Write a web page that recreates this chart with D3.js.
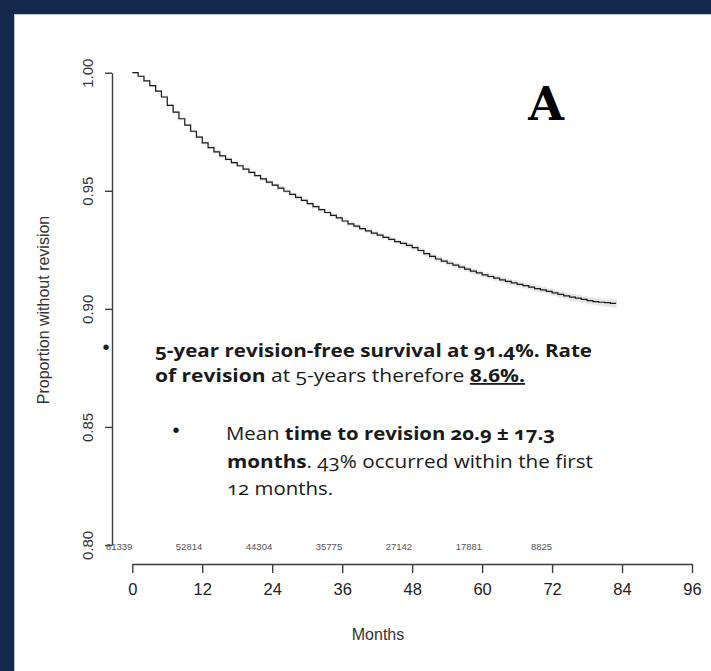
<!DOCTYPE html>
<html>
<head>
<meta charset="utf-8">
<script src="https://cdn.jsdelivr.net/npm/d3@7"></script>
<style>
  html, body { margin: 0; padding: 0; background: #14284c; }
  svg { display: block; }
</style>
</head>
<body>
<svg id="svg" width="711" height="671"></svg>
<script>
// Kaplan-Meier curve
const months = [0,1,2,3,4,5,6,7,8,9,10,11,12,13,14,15,16,17,18,19,20,21,22,23,24,25,26,27,28,29,
  30,31,32,33,34,35,36,37,38,39,40,41,42,43,44,45,46,47,48,49,50,51,52,53,54,55,56,57,58,59,
  60,61,62,63,64,65,66,67,68,69,70,71,72,73,74,75,76,77,78,79,80,81,82,83];
const survival = [1.0000,0.9985,0.9965,0.9945,0.9922,0.9897,0.9862,0.9833,0.9805,0.9778,
  0.9752,0.9727,0.9703,0.9683,0.9665,0.9648,0.9633,0.9619,0.9606,0.9592,
  0.9578,0.9564,0.9550,0.9537,0.9524,0.9511,0.9498,0.9485,0.9472,0.9459,
  0.9446,0.9433,0.9420,0.9408,0.9396,0.9385,0.9372,0.9360,0.9350,0.9340,
  0.9330,0.9321,0.9312,0.9303,0.9294,0.9285,0.9277,0.9269,0.9259,0.9247,
  0.9234,0.9222,0.9211,0.9202,0.9193,0.9185,0.9177,0.9168,0.9160,0.9152,
  0.9144,0.9137,0.9130,0.9123,0.9116,0.9110,0.9104,0.9098,0.9092,0.9086,
  0.9080,0.9074,0.9068,0.9061,0.9055,0.9050,0.9045,0.9040,0.9035,0.9031,
  0.9028,0.9026,0.9023,0.9023];
// half width of the grey confidence band
const ciHalf = [0,0.0001,0.0001,0.0002,0.0002,0.0002,0.0003,0.0003,0.0003,0.0003,
  0.0003,0.0003,0.0004,0.0004,0.0004,0.0004,0.0004,0.0004,0.0004,0.0004,
  0.0004,0.0004,0.0004,0.0005,0.0005,0.0005,0.0005,0.0005,0.0005,0.0005,
  0.0005,0.0005,0.0005,0.0005,0.0005,0.0005,0.0006,0.0006,0.0006,0.0006,
  0.0006,0.0006,0.0006,0.0006,0.0006,0.0006,0.0006,0.0007,0.0007,0.0007,
  0.0007,0.0007,0.0007,0.0007,0.0007,0.0007,0.0008,0.0008,0.0008,0.0008,
  0.0008,0.0008,0.0008,0.0008,0.0009,0.0009,0.0009,0.0009,0.0009,0.0010,
  0.0010,0.0010,0.0010,0.0011,0.0011,0.0011,0.0012,0.0012,0.0012,0.0013,
  0.0013,0.0014,0.0014,0.0014];

const xTicks = [0,12,24,36,48,60,72,84,96];
const yTicks = [0.80,0.85,0.90,0.95,1.00];
const riskMonths = [0,12,24,36,48,60,72];
const riskCounts = ["61339","52814","44304","35775","27142","17881","8825"];

const svg = d3.select("#svg");

// white panel
svg.append("rect")
    .attr("x", 14.5).attr("y", 14.5)
    .attr("width", 711).attr("height", 671)
    .attr("fill", "#fff")
    .attr("stroke", "#b9c3d2")
    .attr("stroke-width", 1);

const x = d3.scaleLinear().domain([0, 96]).range([132.3, 692]);
const y = d3.scaleLinear().domain([0.80, 1.00]).range([545, 72.7]);

const data = months.map((m, i) => ({m: m, s: survival[i], h: ciHalf[i]}));

// confidence band
const band = d3.area()
    .x(d => x(d.m))
    .y0(d => y(d.s - d.h))
    .y1(d => y(d.s + d.h))
    .curve(d3.curveStepAfter);

svg.append("path")
    .datum(data)
    .attr("fill", "#e3e3e3")
    .attr("stroke", "#e8e8e8")
    .attr("stroke-width", 1.5)
    .attr("d", band);

const line = d3.line()
    .x(d => x(d.m))
    .y(d => y(d.s))
    .curve(d3.curveStepAfter);

svg.append("path")
    .datum(data)
    .attr("fill", "none")
    .attr("stroke", "#1a1a1a")
    .attr("stroke-width", 1.2)
    .attr("d", line);

// y axis
const yAxis = svg.append("g")
    .attr("transform", "translate(112,0)")
    .call(d3.axisLeft(y).tickValues(yTicks).tickFormat(d3.format(".2f")).tickSize(7).tickSizeOuter(0));

yAxis.selectAll("text")
    .attr("transform", "rotate(-90)")
    .attr("x", 0).attr("y", -24).attr("dy", "0.35em")
    .attr("text-anchor", "middle")
    .attr("font-family", "Liberation Sans, Arial, sans-serif")
    .attr("font-size", 15)
    .attr("fill", "#333");

// x axis
const xAxis = svg.append("g")
    .attr("transform", "translate(0,564)")
    .call(d3.axisBottom(x).tickValues(xTicks).tickSize(9).tickSizeOuter(0));

xAxis.selectAll("text")
    .attr("y", 19)
    .attr("font-family", "Liberation Sans, Arial, sans-serif")
    .attr("font-size", 16.5)
    .attr("fill", "#222");

svg.selectAll(".domain, .tick line")
    .attr("stroke", "#3c3c3c")
    .attr("stroke-width", 1.4);

// numbers at risk
svg.append("g").selectAll("text")
    .data(riskMonths)
    .join("text")
    .attr("x", d => x(d))
    .attr("y", 547)
    .attr("dy", "0.35em")
    .attr("text-anchor", "end")
    .attr("font-family", "Liberation Sans, Arial, sans-serif")
    .attr("font-size", 9.5)
    .attr("fill", "#555")
    .text((d, i) => riskCounts[i]);

// axis titles
svg.append("text")
    .attr("transform", "translate(43,310) rotate(-90)")
    .attr("text-anchor", "middle")
    .attr("dy", "0.35em")
    .attr("font-family", "Liberation Sans, Arial, sans-serif")
    .attr("font-size", 16)
    .attr("fill", "#333")
    .text("Proportion without revision");

svg.append("text")
    .attr("x", 378).attr("y", 634)
    .attr("text-anchor", "middle")
    .attr("dy", "0.35em")
    .attr("font-family", "Liberation Sans, Arial, sans-serif")
    .attr("font-size", 16)
    .attr("fill", "#333")
    .text("Months");

// panel letter
svg.append("text")
    .attr("x", 546).attr("y", 120)
    .attr("text-anchor", "middle")
    .attr("font-family", "DejaVu Serif, serif")
    .attr("font-weight", "bold")
    .attr("font-size", 46)
    .attr("fill", "#000")
    .text("A");

// bullet notes: font kept small enough that lines don't collide, stretched to the original widths
const noteFont = "Open Sans, Noto Sans, sans-serif";
const note = (xPos, yPos, width, parts) => {
    const t = svg.append("text")
        .attr("x", xPos).attr("y", yPos)
        .attr("font-family", noteFont)
        .attr("font-size", 18)
        .attr("fill", "#1a1a1a")
        .attr("textLength", width)
        .attr("lengthAdjust", "spacingAndGlyphs")
        .style("font-variant-numeric", "oldstyle-nums");
    parts.forEach(p => {
        const s = t.append("tspan").text(p[0]);
        if (p[1]) s.attr("font-weight", "bold");
        if (p[2]) s.style("text-decoration", "underline");
    });
    return t;
};

const bullet = (xPos, yPos) => svg.append("text")
    .attr("x", xPos).attr("y", yPos)
    .attr("text-anchor", "middle").attr("dy", "0.35em")
    .attr("font-family", "Liberation Sans, Arial, sans-serif")
    .attr("font-size", 20).attr("fill", "#1a1a1a").text("•");

bullet(106, 347);
note(155, 357, 437, [["5-year revision-free survival at 91.4%. Rate", true]]);
note(155, 382, 370, [["of revision", true], [" at 5-years therefore ", false], ["8.6%.", true, true]]);

bullet(176, 430);
note(226, 440, 329, [["Mean ", false], ["time to revision 20.9 ± 17.3", true]]);
note(227, 468, 366, [["months", true], [". 43% occurred within the first", false]]);
note(227, 495, 106, [["12 months.", false]]);
</script>
</body>
</html>
